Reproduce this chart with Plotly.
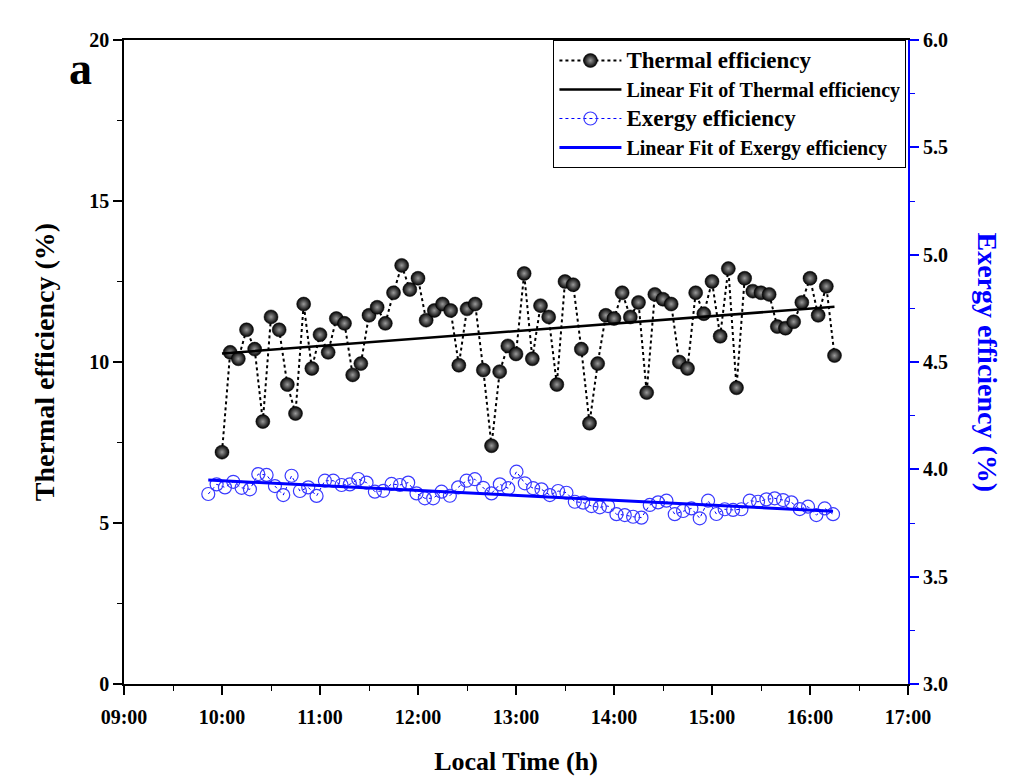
import numpy as np
import pandas as pd
import plotly.graph_objects as go

# ---- data ----
thermal_start = "2020-01-01 10:00:00"
thermal_step = "5min"
thermal_eff = [7.2, 10.3, 10.1, 11.0, 10.4, 8.15, 11.4, 11.0, 9.3, 8.4, 11.8, 9.8,
               10.85, 10.3, 11.35, 11.2, 9.6, 9.95, 11.45, 11.7, 11.2, 12.15, 13.0, 12.25,
               12.6, 11.3, 11.6, 11.8, 11.6, 9.9, 11.65, 11.8, 9.75, 7.4, 9.7, 10.5,
               10.25, 12.75, 10.1, 11.75, 11.4, 9.3, 12.5, 12.4, 10.4, 8.1, 9.95, 11.45,
               11.35, 12.15, 11.4, 11.85, 9.05, 12.1, 11.95, 11.8, 10.0, 9.8, 12.15, 11.5,
               12.5, 10.8, 12.9, 9.2, 12.6, 12.2, 12.15, 12.1, 11.1, 11.05, 11.25, 11.85,
               12.6, 11.45, 12.35, 10.2]

exergy_start = "2020-01-01 09:51:36"
exergy_step = "306s"
exergy_eff = [3.885, 3.930, 3.916, 3.942, 3.914, 3.907, 3.978, 3.974, 3.922, 3.880,
              3.970, 3.899, 3.916, 3.876, 3.947, 3.947, 3.927, 3.930, 3.955,
              3.938, 3.896, 3.900, 3.932, 3.927, 3.938, 3.888, 3.865, 3.865, 3.896,
              3.877, 3.916, 3.947, 3.954, 3.914, 3.888, 3.930, 3.912, 3.989,
              3.935, 3.912, 3.907, 3.880, 3.899, 3.891, 3.849, 3.845, 3.829, 3.823,
              3.829, 3.791, 3.787, 3.779, 3.775, 3.834, 3.846, 3.854, 3.791,
              3.806, 3.818, 3.772, 3.854, 3.792, 3.814, 3.811, 3.814, 3.854, 3.849,
              3.860, 3.865, 3.857, 3.846, 3.815, 3.826, 3.787, 3.818, 3.791]

x_ticks = ["09:00", "10:00", "11:00", "12:00", "13:00", "14:00", "15:00", "16:00", "17:00"]

t_thermal = pd.date_range(thermal_start, periods=len(thermal_eff), freq=thermal_step)
t_exergy = pd.date_range(exergy_start, periods=len(exergy_eff), freq=exergy_step)

def hours(ts):
    return np.array([(t - pd.Timestamp("2020-01-01")).total_seconds() / 3600 for t in ts])

def fit_line(ts, vals):
    h = hours(ts)
    k, b = np.polyfit(h, vals, 1)
    ends = [ts[0], ts[-1]]
    return ends, [k * h[0] + b, k * h[-1] + b]

fit_t_x, fit_t_y = fit_line(t_thermal, thermal_eff)
fit_e_x, fit_e_y = fit_line(t_exergy, exergy_eff)

FONT = "Liberation Serif"
BLUE = "#0000ff"
BIG = '<span style="font-size:23px"><b>%s</b></span>'
SMALL = '<b>%s</b>'

fig = go.Figure()
fig.add_trace(go.Scatter(
    x=t_thermal, y=thermal_eff, mode="lines+markers", name=BIG % "Thermal efficiency",
    line=dict(color="black", width=2, dash="dot"),
    marker=dict(size=14, color="black", gradient=dict(type="radial", color="#9a9a9a"),
                line=dict(color="black", width=0.5)),
))
fig.add_trace(go.Scatter(
    x=fit_t_x, y=fit_t_y, mode="lines", name=SMALL % "Linear Fit of Thermal efficiency",
    line=dict(color="black", width=2.5),
))
fig.add_trace(go.Scatter(
    x=t_exergy, y=exergy_eff, mode="lines+markers", name=BIG % "Exergy efficiency",
    yaxis="y2",
    line=dict(color=BLUE, width=1, dash="dot"),
    marker=dict(size=13, color="#3a3aff", symbol="circle-open",
                line=dict(color="#3a3aff", width=1.2)),
))
fig.add_trace(go.Scatter(
    x=fit_e_x, y=fit_e_y, mode="lines", name=SMALL % "Linear Fit of Exergy efficiency",
    yaxis="y2",
    line=dict(color=BLUE, width=3),
))

tickvals = [pd.Timestamp("2020-01-01 " + s) for s in x_ticks]

fig.update_layout(
    width=1018, height=777,
    margin=dict(l=124, r=110, t=40, b=93),
    paper_bgcolor="white", plot_bgcolor="white",
    font=dict(family=FONT, color="black", size=20),
    showlegend=True,
    legend=dict(x=0.998, y=1.0, xanchor="right", yanchor="top",
                bordercolor="black", borderwidth=1, bgcolor="white",
                font=dict(family=FONT, size=20, color="black"),
                itemwidth=62, tracegroupgap=0),
    xaxis=dict(
        range=[tickvals[0], tickvals[-1]], tickvals=tickvals,
        ticktext=["<b>%s</b>" % s for s in x_ticks], automargin=False,
        showgrid=False, zeroline=False, showline=True, linecolor="black", linewidth=1.5,
        mirror=True, ticks="outside", ticklen=9, tickwidth=1.5, tickcolor="black",
        minor=dict(dtick=1800000, ticks="outside", ticklen=5, tickwidth=1.2, tickcolor="black"),
        tickfont=dict(family=FONT, size=20), ticklabelstandoff=5,
        title=dict(text="<b>Local Time (h)</b>", font=dict(family=FONT, size=26), standoff=25),
    ),
    yaxis=dict(
        range=[0, 20], tick0=0, dtick=5, automargin=False,
        showgrid=False, zeroline=False, showline=True, linecolor="black", linewidth=1.5,
        ticks="outside", ticklen=9, tickwidth=1.5, tickcolor="black",
        minor=dict(dtick=2.5, ticks="outside", ticklen=5, tickwidth=1.2, tickcolor="black"),
        tickfont=dict(family=FONT, size=20), tickprefix="<b>", ticksuffix="</b>",
        title=dict(text="<b>Thermal efficiency (%)</b>", font=dict(family=FONT, size=28), standoff=26),
    ),
    yaxis2=dict(
        overlaying="y", side="right", anchor="x", automargin=False,
        range=[3.0, 6.0], tick0=3.0, dtick=0.5, tickformat=".1f",
        showgrid=False, zeroline=False, showline=True, linecolor=BLUE, linewidth=2,
        ticks="outside", ticklen=9, tickwidth=1.5, tickcolor=BLUE,
        minor=dict(dtick=0.25, ticks="outside", ticklen=5, tickwidth=1.2, tickcolor=BLUE),
        tickfont=dict(family=FONT, size=20, color="black"), tickprefix="<b>", ticksuffix="</b>",
    ),
    annotations=[
        dict(text="<b>a</b>", x=-0.055, y=0.955, xref="paper", yref="paper",
             xanchor="center", yanchor="middle", showarrow=False,
             font=dict(family=FONT, size=46, color="black")),
        dict(text="<b>Exergy efficiency (%)</b>", textangle=90, xref="paper", yref="paper",
             x=1.0, y=0.5, xanchor="left", yanchor="middle", xshift=62, showarrow=False,
             font=dict(family=FONT, size=28, color=BLUE)),
    ],
)

fig.write_html("out.html")
